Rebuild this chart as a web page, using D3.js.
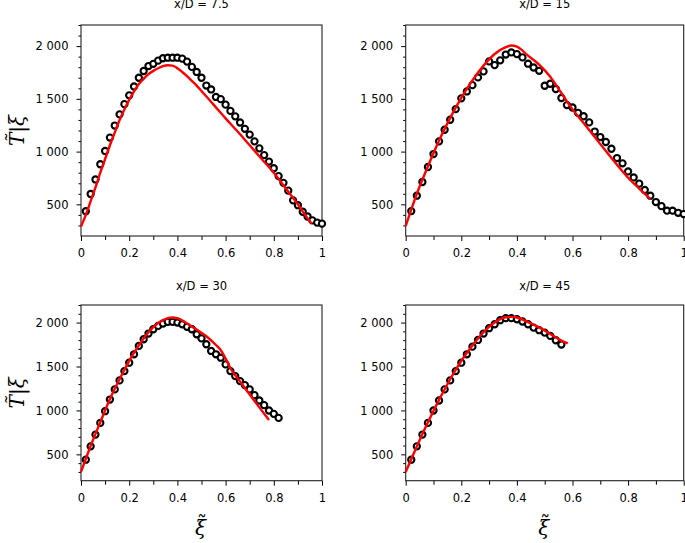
<!DOCTYPE html>
<html>
<head>
<meta charset="utf-8">
<script src="https://cdn.jsdelivr.net/npm/d3@7"></script>
<style>
  html, body { margin: 0; padding: 0; background: #fff; }
  svg { display: block; }
</style>
</head>
<body>
<svg id="chart" width="685" height="543"></svg>
<script>
// ---------------- data ----------------
const panelTitles = ["x/D = 7.5", "x/D = 15", "x/D = 30", "x/D = 45"];
const yTickValues = [500, 1000, 1500, 2000];
const xTickValues = [0, 0.2, 0.4, 0.6, 0.8, 1];
const xTickLabels = ["0", "0.2", "0.4", "0.6", "0.8", "1"];
const yDomain = [200, 2200];
const xDomain = [0, 1];
const yLabelText = "T\u0303|ξ";
const xLabelBase = "ξ";
const xLabelAccent = "˜";

// experiment (circles)
const expXi75 = [0.02,0.04,0.06,0.08,0.10,0.12,0.14,0.16,0.18,0.20,0.22,0.24,0.26,0.28,0.30,0.32,0.34,0.36,0.38,0.40,0.42,0.44,0.46,0.48,0.50,0.52,0.54,0.56,0.58,0.60,0.62,0.64,0.66,0.68,0.70,0.72,0.74,0.76,0.78,0.80,0.82,0.84,0.86,0.88,0.90,0.92,0.94,0.96,0.98,1.00];
const expT75  = [435,598,736,880,1006,1133,1247,1353,1450,1533,1617,1700,1764,1811,1832,1862,1885,1890,1890,1890,1881,1853,1803,1755,1700,1626,1589,1518,1497,1445,1386,1334,1276,1216,1161,1097,1031,967,905,842,768,704,630,538,492,430,385,348,327,317];

const expXi15 = [0.02,0.04,0.06,0.08,0.10,0.12,0.14,0.16,0.18,0.20,0.22,0.24,0.26,0.28,0.30,0.32,0.34,0.36,0.38,0.40,0.42,0.44,0.46,0.48,0.50,0.52,0.54,0.56,0.58,0.60,0.62,0.64,0.66,0.68,0.70,0.72,0.74,0.76,0.78,0.80,0.82,0.84,0.86,0.88,0.90,0.92,0.94,0.96,0.98,1.00];
const expT15  = [436,582,712,854,977,1097,1207,1302,1403,1505,1570,1630,1703,1760,1855,1820,1865,1920,1940,1924,1893,1833,1797,1766,1624,1643,1593,1508,1441,1418,1367,1335,1277,1190,1138,1091,1027,939,889,812,755,696,636,582,522,483,440,440,420,408];

const expXi30 = [0.02,0.04,0.06,0.08,0.10,0.12,0.14,0.16,0.18,0.20,0.22,0.24,0.26,0.28,0.30,0.32,0.34,0.36,0.38,0.40,0.42,0.44,0.46,0.48,0.50,0.52,0.54,0.56,0.58,0.60,0.62,0.64,0.66,0.68,0.70,0.72,0.74,0.76,0.78,0.80,0.82];
const expT30  = [439,591,725,858,991,1124,1239,1342,1448,1543,1639,1734,1810,1875,1924,1962,1989,2008,2008,2000,1981,1951,1924,1867,1820,1753,1677,1639,1600,1524,1448,1391,1334,1288,1239,1174,1113,1060,999,961,915];

const expXi45 = [0.02,0.04,0.06,0.08,0.10,0.12,0.14,0.16,0.18,0.20,0.22,0.24,0.26,0.28,0.30,0.32,0.34,0.36,0.38,0.40,0.42,0.44,0.46,0.48,0.50,0.52,0.54,0.56];
const expT45  = [439,591,725,858,999,1113,1239,1342,1448,1543,1639,1726,1802,1875,1936,1981,2027,2050,2050,2038,2012,1981,1943,1913,1886,1848,1799,1750];

// model (red lines)
const modXi75 = [0,0.02,0.04,0.06,0.08,0.10,0.12,0.14,0.16,0.18,0.20,0.22,0.24,0.26,0.28,0.30,0.32,0.34,0.36,0.38,0.40,0.42,0.44,0.46,0.48,0.50,0.55,0.60,0.65,0.70,0.75,0.80,0.85,0.90,0.93,0.957];
const modT75  = [290,400,530,660,800,930,1060,1180,1300,1400,1490,1570,1640,1690,1735,1765,1790,1810,1818,1815,1790,1755,1715,1670,1625,1575,1445,1315,1190,1060,930,800,650,500,400,317];

const modXi15 = [0,0.04,0.08,0.12,0.16,0.20,0.24,0.28,0.32,0.36,0.38,0.40,0.44,0.48,0.52,0.56,0.60,0.64,0.68,0.72,0.76,0.80,0.84,0.88];
const modT15  = [295,600,860,1105,1320,1510,1675,1815,1925,1990,2005,1995,1910,1825,1710,1555,1400,1270,1138,1005,875,752,650,552];

const modXi30 = [0,0.04,0.08,0.12,0.16,0.20,0.24,0.28,0.32,0.36,0.38,0.40,0.44,0.48,0.52,0.56,0.58,0.60,0.62,0.66,0.70,0.74,0.78];
const modT30  = [300,595,865,1130,1355,1565,1740,1890,1995,2050,2058,2050,1990,1920,1845,1745,1685,1590,1480,1330,1182,1035,890];

const modXi45 = [0,0.04,0.08,0.12,0.16,0.20,0.24,0.28,0.32,0.36,0.38,0.40,0.44,0.48,0.52,0.56,0.583];
const modT45  = [300,590,865,1120,1355,1565,1740,1890,2000,2060,2065,2058,2005,1945,1870,1795,1762];

// ---------------- layout ----------------
const panels = [
  { title: panelTitles[0], ex: expXi75, ey: expT75, mx: modXi75, my: modT75, l: 81,    t: 25,  r: 322,   b: 236,   titleY: 8,   ylab: true,  xlab: false },
  { title: panelTitles[1], ex: expXi15, ey: expT15, mx: modXi15, my: modT15, l: 405.7, t: 25,  r: 683.7, b: 236,   titleY: 8,   ylab: false, xlab: false },
  { title: panelTitles[2], ex: expXi30, ey: expT30, mx: modXi30, my: modT30, l: 81,    t: 305, r: 322,   b: 480.7, titleY: 290, ylab: true,  xlab: true },
  { title: panelTitles[3], ex: expXi45, ey: expT45, mx: modXi45, my: modT45, l: 405.7, t: 305, r: 683.7, b: 480.7, titleY: 290, ylab: false, xlab: true }
];

const svg = d3.select("#chart");
const FONT = "DejaVu Sans, sans-serif";
const fmtY = d => d3.format(",")(d).replace(/,/g, " ");

panels.forEach(p => {
  const x = d3.scaleLinear().domain(xDomain).range([p.l, p.r]);
  const y = d3.scaleLinear().domain(yDomain).range([p.b, p.t]);
  const g = svg.append("g");

  // minor ticks
  const yMinor = d3.range(300, 2201, 100).filter(v => v % 500 !== 0);
  const xMinor = [0.1, 0.3, 0.5, 0.7, 0.9];
  g.append("g").attr("transform", `translate(${p.l},0)`)
    .call(d3.axisLeft(y).tickValues(yMinor).tickSize(2.5).tickFormat(""))
    .call(a => a.select(".domain").remove());
  g.append("g").attr("transform", `translate(0,${p.b})`)
    .call(d3.axisBottom(x).tickValues(xMinor).tickSize(4).tickFormat(""))
    .call(a => a.select(".domain").remove());

  // major axes
  const ya = g.append("g").attr("transform", `translate(${p.l},0)`)
    .call(d3.axisLeft(y).tickValues(yTickValues).tickSize(4.5).tickPadding(8).tickFormat(fmtY));
  ya.select(".domain").remove();
  const xa = g.append("g").attr("transform", `translate(0,${p.b})`)
    .call(d3.axisBottom(x).tickValues(xTickValues).tickSize(5).tickPadding(8)
      .tickFormat((d, i) => xTickLabels[i]));
  xa.select(".domain").remove();
  g.selectAll(".tick text").attr("font-family", FONT).attr("font-size", 11.5).attr("fill", "#000");
  g.selectAll(".tick line").attr("stroke", "#000").attr("stroke-width", 1);

  // frame
  g.append("rect")
    .attr("x", p.l).attr("y", p.t)
    .attr("width", p.r - p.l).attr("height", p.b - p.t)
    .attr("fill", "none").attr("stroke", "#222").attr("stroke-width", 1.1);

  // experiment circles
  g.append("g").selectAll("circle")
    .data(p.ex.map((v, i) => [v, p.ey[i]]))
    .join("circle")
    .attr("cx", d => x(d[0])).attr("cy", d => y(d[1]))
    .attr("r", 3.1)
    .attr("fill", "#fff").attr("stroke", "#000").attr("stroke-width", 2.1);

  // model line
  const line = d3.line().x(d => x(d[0])).y(d => y(d[1])).curve(d3.curveMonotoneX);
  g.append("path")
    .datum(p.mx.map((v, i) => [v, p.my[i]]))
    .attr("d", line)
    .attr("fill", "none").attr("stroke", "#ff0000").attr("stroke-width", 2.4)
    .attr("stroke-linejoin", "round");

  // title
  svg.append("text")
    .attr("x", (p.l + p.r) / 2).attr("y", p.titleY)
    .attr("text-anchor", "middle")
    .attr("font-family", FONT).attr("font-size", 11.5).attr("fill", "#000")
    .text(p.title);

  // y label
  if (p.ylab) {
    const cy = (p.t + p.b) / 2;
    svg.append("text")
      .attr("transform", `translate(24,${cy}) rotate(-90)`)
      .attr("text-anchor", "middle")
      .attr("font-family", "DejaVu Serif, serif").attr("font-style", "italic")
      .attr("font-size", 20).attr("fill", "#000")
      .text(yLabelText);
  }

  // x label: xi with tilde accent, as one text element
  if (p.xlab) {
    const cx = (p.l + p.r) / 2 - 1;
    const t = svg.append("text")
      .attr("y", 535)
      .attr("font-family", "DejaVu Serif, serif").attr("font-style", "italic")
      .attr("font-size", 20).attr("fill", "#000");
    t.append("tspan").text(xLabelBase);
    const acc = t.append("tspan").attr("font-style", "normal").text(xLabelAccent);
    const n = t.node();
    const wx = n.getSubStringLength(0, 1);
    const wt = n.getSubStringLength(1, 1);
    acc.attr("dx", -(wx + wt) / 2 + 1.5).attr("dy", -5);
    t.attr("x", cx - wx / 2);
  }
});
</script>
</body>
</html>
